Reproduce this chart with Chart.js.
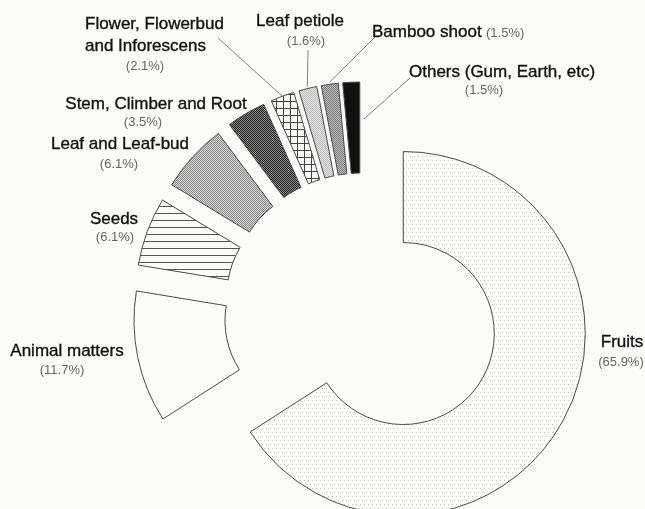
<!DOCTYPE html>
<html>
<head>
<meta charset="utf-8">
<script src="https://cdn.jsdelivr.net/npm/chart.js@4"></script>
<style>
  html, body { margin: 0; padding: 0; background: #fbfbf8; }
  canvas { display: block; }
</style>
</head>
<body>
<canvas id="chart" width="645" height="509"></canvas>
<script>
// Diet composition (share of feeding records, %)
var categories = [
    'Fruits',
    'Animal matters',
    'Seeds',
    'Leaf and Leaf-bud',
    'Stem, Climber and Root',
    'Flower, Flowerbud\nand Inforescens',
    'Leaf petiole',
    'Bamboo shoot',
    'Others (Gum, Earth, etc)'
];
var shares = [65.9, 11.7, 6.1, 6.1, 3.5, 2.1, 1.6, 1.5, 1.5];
var shareLabels = ['(65.9%)', '(11.7%)', '(6.1%)', '(6.1%)', '(3.5%)', '(2.1%)', '(1.6%)', '(1.5%)', '(1.5%)'];

var BG = '#fbfbf8';
var EXPLODE = 47;  // every slice pulled out from the centre

// small tiled fills, like the old hatch patterns
function makePattern(w, h, draw) {
    var c = document.createElement('canvas');
    c.width = w;
    c.height = h;
    var g = c.getContext('2d');
    g.fillStyle = BG;
    g.fillRect(0, 0, w, h);
    draw(g);
    return g.createPattern(c, 'repeat');
}
function px(g, x, y, col) {
    g.fillStyle = col;
    g.fillRect(x, y, 1, 1);
}
function checker(a, b) {
    return makePattern(2, 2, function(g) {
        px(g, 0, 0, a); px(g, 1, 1, a);
        px(g, 1, 0, b); px(g, 0, 1, b);
    });
}

var fills = [
    makePattern(4, 8, function(g) { px(g, 0, 0, '#c2c2c2'); px(g, 2, 4, '#c2c2c2'); }),  // Fruits
    BG,                                                                                   // Animal matters
    makePattern(4, 7, function(g) { g.fillStyle = '#555'; g.fillRect(0, 3, 4, 1); }),     // Seeds
    checker('#8a8a8a', '#d6d6d6'),                                                        // Leaf
    checker('#1e1e1e', '#8a8a8a'),                                                        // Stem
    makePattern(7, 7, function(g) { g.fillStyle = '#444'; g.fillRect(3, 0, 1, 7); g.fillRect(0, 3, 7, 1); }), // Flower
    checker('#bcbcbc', '#e4e4e4'),                                                        // Leaf petiole
    checker('#7a7a7a', '#bdbdbd'),                                                        // Bamboo
    '#111111'                                                                             // Others
];

// where each label sits (text centres unless align says otherwise)
var labelLayout = [
    { name: [622, 342, 'center'], pct: [621, 362, 'center'] },
    { name: [67, 351, 'center'], pct: [62, 370, 'center'] },
    { name: [114, 219, 'center'], pct: [115, 237, 'center'] },
    { name: [120, 144, 'center'], pct: [119, 164, 'center'] },
    { name: [156, 104, 'center'], pct: [143, 122, 'center'] },
    { name: [85, 24, 'left'], pct: [145, 66, 'center'], lineGap: 22, leader: { x: 218, y: 38, t: 0.5, r: 182 } },
    { name: [300, 21, 'center'], pct: [306, 41, 'center'], leader: { x: 308, y: 50, t: 0.5, r: 184 } },
    { name: [372, 32, 'left'], pct: [486, 33, 'left'], leader: { x: 375, y: 37, t: 0.5, r: 184 } },
    { name: [409, 72, 'left'], pct: [484, 90, 'center'], leader: { x: 410, y: 78, t: 1.3, r: 145 } }
];

var explodePlugin = {
    id: 'explode',
    afterDatasetUpdate: function(chart, args) {
        var meta = chart.getDatasetMeta(args.index);
        meta.data.forEach(function(arc) {
            var mid = (arc.startAngle + arc.endAngle) / 2;
            arc.x += Math.cos(mid) * EXPLODE;
            arc.y += Math.sin(mid) * EXPLODE;
        });
    }
};

var labelPlugin = {
    id: 'sliceLabels',
    afterDatasetsDraw: function(chart) {
        var ctx = chart.ctx;
        var arcs = chart.getDatasetMeta(0).data;
        ctx.save();
        ctx.textBaseline = 'middle';
        labelLayout.forEach(function(lay, i) {
            var arc = arcs[i];
            if (lay.leader) {
                var a = arc.startAngle + (arc.endAngle - arc.startAngle) * lay.leader.t;
                ctx.strokeStyle = '#808080';
                ctx.lineWidth = 1;
                ctx.beginPath();
                ctx.moveTo(lay.leader.x, lay.leader.y);
                ctx.lineTo(arc.x + Math.cos(a) * lay.leader.r, arc.y + Math.sin(a) * lay.leader.r);
                ctx.stroke();
            }
            var lines = categories[i].split('\n');
            ctx.font = '17px "Liberation Sans", Arial, sans-serif';
            ctx.fillStyle = '#111';
            ctx.strokeStyle = '#111';
            ctx.lineWidth = 0.35;
            ctx.textAlign = lay.name[2];
            lines.forEach(function(txt, k) {
                var y = lay.name[1] + k * (lay.lineGap || 20);
                ctx.fillText(txt, lay.name[0], y);
                ctx.strokeText(txt, lay.name[0], y);
            });
            ctx.font = '13px "Liberation Sans", Arial, sans-serif';
            ctx.fillStyle = '#666';
            ctx.textAlign = lay.pct[2];
            ctx.fillText(shareLabels[i], lay.pct[0], lay.pct[1]);
        });
        ctx.restore();
    }
};

var chart = new Chart(document.getElementById('chart').getContext('2d'), {
    type: 'doughnut',
    data: {
        labels: categories,
        datasets: [{
            data: shares,
            backgroundColor: fills,
            borderColor: '#4a4a4a',
            borderWidth: 1,
            borderAlign: 'center',
            clip: false
        }]
    },
    options: {
        responsive: false,
        animation: false,
        devicePixelRatio: 1,
        radius: 182,
        cutout: '50%',
        layout: { padding: { left: 79, top: 113, right: 0, bottom: 0 } },
        plugins: {
            legend: { display: false },
            tooltip: { enabled: false }
        },
        events: []
    },
    plugins: [explodePlugin, labelPlugin]
});
</script>
</body>
</html>
